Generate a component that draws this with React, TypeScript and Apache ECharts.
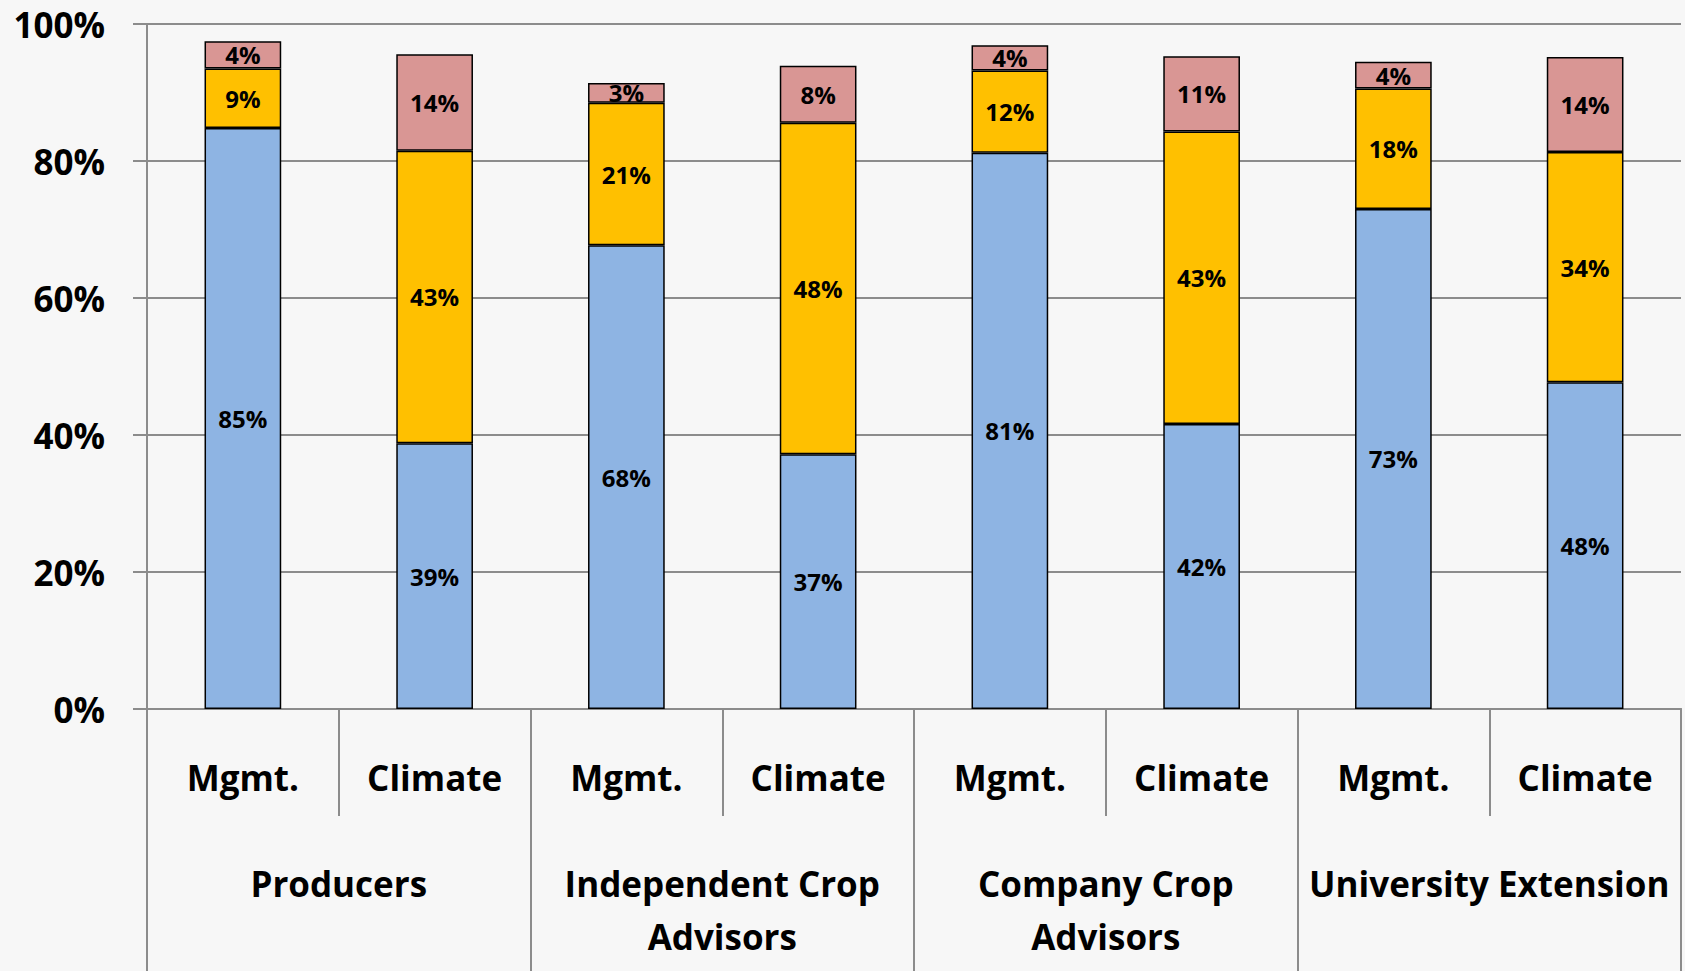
import React, { useEffect, useRef } from "react";
import * as echarts from "echarts";

const subCategories = ["Mgmt.", "Climate", "Mgmt.", "Climate", "Mgmt.", "Climate", "Mgmt.", "Climate"];
const groups = ["Producers", "Independent Crop\nAdvisors", "Company Crop\nAdvisors", "University Extension"];
const blueValues = [84.8, 38.8, 67.7, 37.2, 81.2, 41.6, 73.0, 47.7];
const yellowValues = [8.7, 42.7, 20.8, 48.4, 12.0, 42.7, 17.6, 33.6];
const pinkValues = [4.0, 14.1, 2.9, 8.3, 3.7, 11.0, 3.9, 13.9];
const yTicks = [0, 20, 40, 60, 80, 100];

const FONT = "Open Sans";

export default function App() {
  const ref = useRef<HTMLDivElement>(null);
  useEffect(() => {
    document.body.style.margin = "0";
    const chart = echarts.init(ref.current!, undefined, { renderer: "svg" });
    const mkSeries = (name: string, data: number[], color: string) => ({
      name,
      type: "bar",
      stack: "total",
      data,
      barWidth: "40%",
      itemStyle: { color, borderColor: "#000", borderWidth: 1.5 },
      label: {
        show: true,
        position: "inside",
        formatter: (p: any) => Math.round(p.value) + "%",
        color: "#000",
        fontFamily: FONT,
        fontWeight: "bold",
        fontSize: 24,
      },
    });
    chart.setOption({
      animation: false,
      backgroundColor: "transparent",
      grid: { left: 147, right: 4, top: 24, bottom: 262, containLabel: false },
      xAxis: [
        {
          type: "category",
          data: subCategories,
          position: "bottom",
          axisLine: { show: true, lineStyle: { color: "#8c8c8c", width: 2 } },
          axisTick: { show: true, interval: 0, length: 107, lineStyle: { color: "#8c8c8c", width: 2 } },
          axisLabel: {
            interval: 0,
            margin: 49,
            color: "#000",
            fontFamily: FONT,
            fontWeight: "bold",
            fontSize: 35,
            lineHeight: 38,
          },
        },
        {
          type: "category",
          data: groups,
          position: "bottom",
          axisLine: { show: true, lineStyle: { color: "#8c8c8c", width: 2 } },
          axisTick: { show: true, interval: 0, length: 263, lineStyle: { color: "#8c8c8c", width: 2 } },
          axisLabel: {
            interval: 0,
            margin: 148,
            color: "#000",
            fontFamily: FONT,
            fontWeight: "bold",
            fontSize: 35,
            lineHeight: 53,
            verticalAlign: "top",
          },
        },
      ],
      yAxis: {
        type: "value",
        min: yTicks[0],
        max: yTicks[yTicks.length - 1],
        interval: 20,
        axisLine: { show: true, lineStyle: { color: "#8c8c8c", width: 2 } },
        axisTick: { show: true, length: 14, lineStyle: { color: "#8c8c8c", width: 2 } },
        splitLine: { show: true, lineStyle: { color: "#8c8c8c", width: 2 } },
        axisLabel: {
          formatter: "{value}%",
          margin: 42,
          color: "#000",
          fontFamily: FONT,
          fontWeight: "bold",
          fontSize: 35,
        },
      },
      series: [
        mkSeries("Blue", blueValues, "#8EB4E3"),
        mkSeries("Yellow", yellowValues, "#FFC000"),
        mkSeries("Pink", pinkValues, "#D99694"),
      ],
    });
    return () => chart.dispose();
  }, []);
  return (
    <div
      ref={ref}
      style={{ width: 1685, height: 971, background: "#f7f7f7" }}
    />
  );
}
